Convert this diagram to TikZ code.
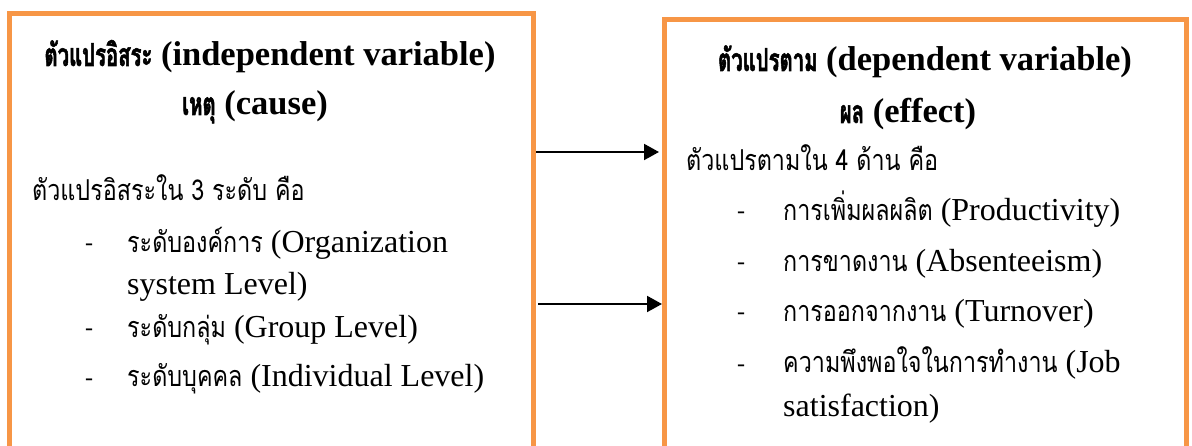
\documentclass[tikz,border=0pt]{standalone}
\usepackage{fontspec}
\setmainfont{Liberation Serif}
\newfontfamily\thaifont[Script=Thai,Scale=0.9,FakeStretch=0.81]{Loma}
\newfontfamily\thaihead[Script=Thai,Scale=0.92,FakeStretch=0.64,FakeBold=1.6]{Loma}
\usetikzlibrary{arrows.meta}
\newcommand{\T}[1]{{\thaifont #1}}
\newcommand{\Thd}[1]{{\thaihead #1}}
\definecolor{boxorange}{HTML}{F79646}
\tikzset{
  framebox/.style={draw=boxorange, line width=5pt, inner sep=0pt, outer sep=0pt, anchor=north west},
  conn/.style={line width=2pt, -{Triangle[length=15pt,width=16pt]}},
  body/.style={anchor=base west, inner sep=0pt, font=\fontsize{32}{38}\selectfont},
  dashmark/.style={anchor=base west, inner sep=0pt, font=\fontsize{24}{28}\selectfont},
  head/.style={anchor=base, inner sep=0pt, font=\fontsize{34.5}{40}\selectfont\bfseries},
}
\begin{document}
\begin{tikzpicture}[x=1pt,y=-1pt]
\useasboundingbox (0,0) rectangle (1192,446);
\clip (0,0) rectangle (1192,446);
\node[framebox, minimum width=524pt, minimum height=470pt] (L) at (9.5,14) {};
\node[framebox, minimum width=521.5pt, minimum height=470pt] (R) at (664.5,20) {};
\coordinate (y1) at (0,152);
\coordinate (y2) at (0,304);
\draw[conn, shorten <=2.5pt, shorten >=5.5pt] (L.east |- y1) -- (R.west |- y1);
\draw[conn, shorten <=4.5pt, shorten >=2.5pt] (L.east |- y2) -- (R.west |- y2);
% left box
\node[head] (lt1) at (270,66) {\Thd{ตัวแปรอิสระ} (independent variable)};
\node[head] (lt2) at (255,115) {\Thd{เหตุ} (cause)};
\node[body] (l0) at (32,201) {\T{ตัวแปรอิสระใน 3 ระดับ คือ}};
\node[dashmark] (ld1) at (85,251) {-};
\node[body] (l1) at (127,253) {\T{ระดับองค์การ} (Organization};
\node[body] (l1b) at (127,295) {system Level)};
\node[dashmark] (ld2) at (85,336) {-};
\node[body] (l2) at (127,338) {\T{ระดับกลุ่ม} (Group Level)};
\node[dashmark] (ld3) at (85,385) {-};
\node[body] (l3) at (127,387) {\T{ระดับบุคคล} (Individual Level)};
% right box
\node[head] (rt1) at (925,71) {\Thd{ตัวแปรตาม} (dependent variable)};
\node[head] (rt2) at (908,123) {\Thd{ผล} (effect)};
\node[body] (r0) at (686,171) {\T{ตัวแปรตามใน 4 ด้าน คือ}};
\node[dashmark] (rd1) at (737,219) {-};
\node[body] (r1) at (783,221) {\T{การเพิ่มผลผลิต} (Productivity)};
\node[dashmark] (rd2) at (737,270) {-};
\node[body] (r2) at (783,272) {\T{การขาดงาน} (Absenteeism)};
\node[dashmark] (rd3) at (737,320) {-};
\node[body] (r3) at (783,322) {\T{การออกจากงาน} (Turnover)};
\node[dashmark] (rd4) at (737,371) {-};
\node[body] (r4) at (783,373) {\T{ความพึงพอใจในการทำงาน} (Job};
\node[body] (r4b) at (783,417) {satisfaction)};
\end{tikzpicture}
\end{document}
